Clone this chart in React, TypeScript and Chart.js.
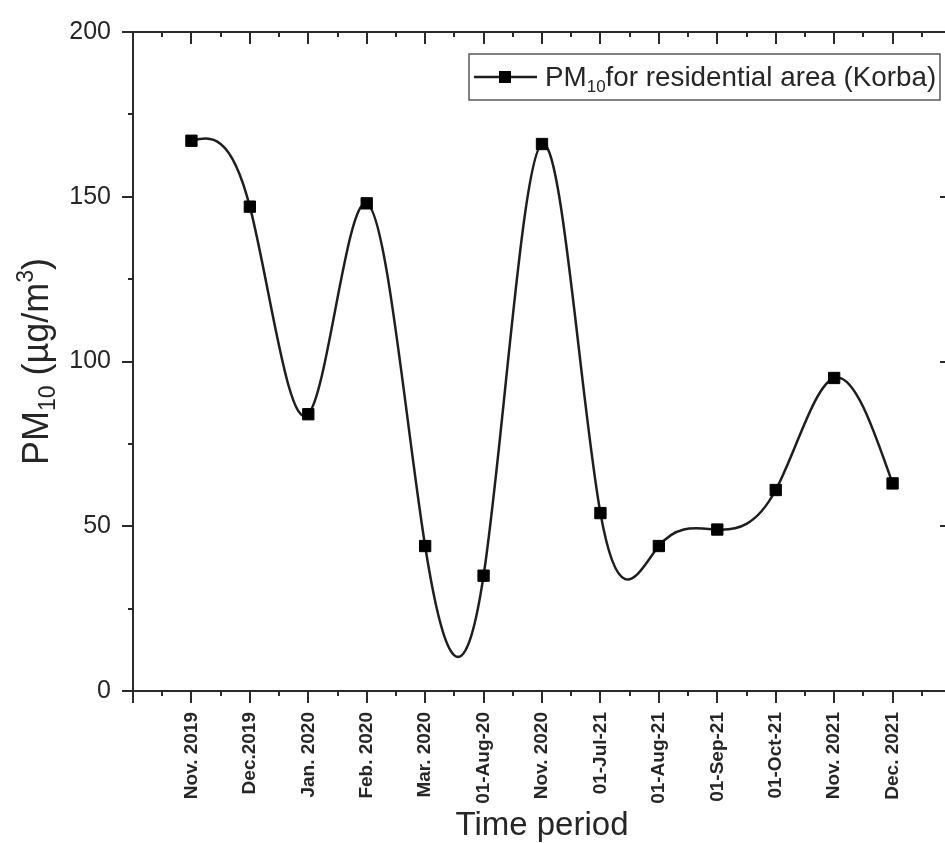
import React, { useEffect, useRef } from "react";
import { Chart, registerables } from "chart.js";

Chart.register(...registerables);

// ---------------- data ----------------
const categories = [
  "Nov. 2019",
  "Dec.2019",
  "Jan. 2020",
  "Feb. 2020",
  "Mar. 2020",
  "01-Aug-20",
  "Nov. 2020",
  "01-Jul-21",
  "01-Aug-21",
  "01-Sep-21",
  "01-Oct-21",
  "Nov. 2021",
  "Dec. 2021",
];
const pm10Values = [167, 147, 84, 148, 44, 35, 166, 54, 44, 49, 61, 95, 63];
const yTickValues = [0, 50, 100, 150, 200];
const xTitle = "Time period";
const legendParts = [
  { text: "PM", sub: false },
  { text: "10", sub: true },
  { text: "for residential area (Korba)", sub: false },
];
const yTitleParts = [
  { text: "PM", mode: "n" },
  { text: "10", mode: "sub" },
  { text: " (µg/m", mode: "n" },
  { text: "3", mode: "sup" },
  { text: ")", mode: "n" },
];

// ---------------- styles ----------------
const FONT = "'Liberation Sans', Arial, Helvetica, sans-serif";
const AXIS_COLOR = "#2a2a2a";
const TEXT_COLOR = "#262626";
const LINE_COLOR = "#1e1e1e";

// natural cubic spline: override bezier control points of the line element
const splinePlugin = {
  id: "naturalSpline",
  beforeDatasetDraw(chart: any, args: any) {
    const meta = chart.getDatasetMeta(args.index);
    const line = meta.dataset;
    const pts = meta.data;
    if (!line || !pts || pts.length < 3) return;
    if (typeof line.updateControlPoints === "function") {
      line.updateControlPoints(chart.chartArea, "x");
    }
    const n = pts.length;
    const xs = pts.map((p: any) => p.x);
    const ys = pts.map((p: any) => p.y);
    const h: number[] = [];
    for (let i = 0; i < n - 1; i++) h.push(xs[i + 1] - xs[i]);
    const M = new Array(n).fill(0);
    const a: number[] = [], b: number[] = [], c: number[] = [], d: number[] = [];
    for (let i = 1; i < n - 1; i++) {
      a.push(h[i - 1]);
      b.push(2 * (h[i - 1] + h[i]));
      c.push(h[i]);
      d.push(6 * ((ys[i + 1] - ys[i]) / h[i] - (ys[i] - ys[i - 1]) / h[i - 1]));
    }
    const m = b.length;
    for (let i = 1; i < m; i++) {
      const w = a[i] / b[i - 1];
      b[i] -= w * c[i - 1];
      d[i] -= w * d[i - 1];
    }
    const sol = new Array(m).fill(0);
    sol[m - 1] = d[m - 1] / b[m - 1];
    for (let i = m - 2; i >= 0; i--) sol[i] = (d[i] - c[i] * sol[i + 1]) / b[i];
    for (let i = 0; i < m; i++) M[i + 1] = sol[i];
    const slope: number[] = [];
    for (let i = 0; i < n; i++) {
      if (i < n - 1) {
        slope.push((ys[i + 1] - ys[i]) / h[i] - (h[i] * (2 * M[i] + M[i + 1])) / 6);
      } else {
        slope.push((ys[i] - ys[i - 1]) / h[i - 1] + (h[i - 1] * (M[i - 1] + 2 * M[i])) / 6);
      }
    }
    for (let i = 0; i < n; i++) {
      const p = pts[i];
      const hp = i > 0 ? h[i - 1] : h[0];
      const hn = i < n - 1 ? h[i] : h[n - 2];
      p.cp1x = xs[i] - hp / 3;
      p.cp1y = ys[i] - (slope[i] * hp) / 3;
      p.cp2x = xs[i] + hn / 3;
      p.cp2y = ys[i] + (slope[i] * hn) / 3;
    }
    line._path = undefined;
  },
};

// frame with inner/outer major & minor ticks on all four sides
const framePlugin = {
  id: "frame",
  beforeDatasetsDraw(chart: any) {
    const { ctx, chartArea: ar, scales } = chart;
    const x = scales.x;
    const y = scales.y;
    ctx.save();
    ctx.strokeStyle = AXIS_COLOR;
    ctx.lineWidth = 2;
    ctx.strokeRect(ar.left, ar.top, ar.right - ar.left, ar.bottom - ar.top);
    ctx.beginPath();
    const xStep = 0.5;
    for (let v = Math.ceil(x.min / xStep) * xStep; v <= x.max + 1e-6; v += xStep) {
      const px = Math.round(x.getPixelForValue(v));
      const major = Math.abs(v - Math.round(v)) < 1e-6;
      const len = major ? 12 : 5;
      ctx.moveTo(px, ar.bottom);
      ctx.lineTo(px, ar.bottom + len);
      ctx.moveTo(px, ar.top);
      ctx.lineTo(px, ar.top + len);
    }
    const yStep = 25;
    for (let v = y.min; v <= y.max + 1e-6; v += yStep) {
      const py = Math.round(y.getPixelForValue(v));
      const major = v % 50 === 0;
      const len = major ? 11 : 5;
      ctx.moveTo(ar.left, py);
      ctx.lineTo(ar.left - len, py);
      ctx.moveTo(ar.right, py);
      ctx.lineTo(ar.right - len, py);
    }
    ctx.stroke();
    ctx.restore();
  },
};

// legend (with subscript) and y-axis title (with sub/superscript)
const textPlugin = {
  id: "richText",
  afterDraw(chart: any) {
    const { ctx, chartArea: ar } = chart;
    ctx.save();
    // ---- legend ----
    const boxL = ar.left + 336;
    const boxR = ar.right - 11;
    const boxT = ar.top + 22;
    const boxB = ar.top + 68;
    ctx.strokeStyle = "#5a5a5a";
    ctx.lineWidth = 1.5;
    ctx.strokeRect(boxL, boxT, boxR - boxL, boxB - boxT);
    const cy = (boxT + boxB) / 2;
    ctx.strokeStyle = LINE_COLOR;
    ctx.lineWidth = 2.5;
    ctx.beginPath();
    ctx.moveTo(boxL + 5, cy);
    ctx.lineTo(boxL + 68, cy);
    ctx.stroke();
    ctx.fillStyle = "#000";
    ctx.fillRect(boxL + 30, cy - 6, 12, 12);
    let tx = boxL + 76;
    const big = 27.8;
    const small = 17;
    ctx.fillStyle = TEXT_COLOR;
    ctx.textBaseline = "alphabetic";
    ctx.textAlign = "left";
    for (const p of legendParts) {
      ctx.font = `${p.sub ? small : big}px ${FONT}`;
      ctx.fillText(p.text, tx, cy + (p.sub ? 15 : 9));
      tx += ctx.measureText(p.text).width;
    }
    // ---- y title ----
    const tBig = 36;
    const tSmall = 23;
    let total = 0;
    for (const p of yTitleParts) {
      ctx.font = `${p.mode === "n" ? tBig : tSmall}px ${FONT}`;
      total += ctx.measureText(p.text).width;
    }
    ctx.translate(48, (ar.top + ar.bottom) / 2);
    ctx.rotate(-Math.PI / 2);
    let px = -total / 2;
    for (const p of yTitleParts) {
      ctx.font = `${p.mode === "n" ? tBig : tSmall}px ${FONT}`;
      const dy = p.mode === "sub" ? 7 : p.mode === "sup" ? -15 : 0;
      ctx.fillText(p.text, px, dy);
      px += ctx.measureText(p.text).width;
    }
    ctx.restore();
  },
};

export default function App() {
  const canvasRef = useRef<HTMLCanvasElement | null>(null);

  useEffect(() => {
    document.body.style.margin = "0";
    const canvas = canvasRef.current;
    if (!canvas) return;
    const chart = new Chart(canvas, {
      type: "line",
      data: {
        datasets: [
          {
            label: "PM10 for residential area (Korba)",
            data: pm10Values.map((v, i) => ({ x: i, y: v })),
            borderColor: LINE_COLOR,
            borderWidth: 2.5,
            tension: 0.4,
            fill: false,
            pointStyle: "rect",
            pointRadius: 8,
            pointBorderWidth: 1,
            pointBackgroundColor: "#000",
            pointBorderColor: "#000",
          },
        ],
      },
      options: {
        responsive: false,
        animation: false,
        events: [],
        layout: { padding: { left: 0, top: 32, right: 7, bottom: 0 } },
        plugins: {
          legend: { display: false },
          tooltip: { enabled: false },
        },
        scales: {
          x: {
            type: "linear",
            min: -1,
            max: 13,
            afterBuildTicks: (scale: any) => {
              scale.ticks = categories.map((_, i) => ({ value: i }));
            },
            afterFit: (scale: any) => {
              scale.height = 152;
            },
            grid: { display: false, drawTicks: true, tickLength: 12 },
            border: { display: false },
            ticks: {
              autoSkip: false,
              minRotation: 90,
              maxRotation: 90,
              padding: 9,
              color: TEXT_COLOR,
              font: { family: FONT, size: 19, weight: "bold" },
              callback: (v: any) => categories[Math.round(Number(v))] ?? "",
            },
            title: {
              display: true,
              text: xTitle,
              color: TEXT_COLOR,
              font: { family: FONT, size: 33, lineHeight: 1 },
              padding: { top: 0, bottom: 1 },
            },
          },
          y: {
            type: "linear",
            min: 0,
            max: 200,
            afterBuildTicks: (scale: any) => {
              scale.ticks = yTickValues.map((v) => ({ value: v }));
            },
            afterFit: (scale: any) => {
              scale.width = 133;
            },
            grid: { display: false, drawTicks: true, tickLength: 11 },
            border: { display: false },
            ticks: {
              padding: 11,
              color: TEXT_COLOR,
              font: { family: FONT, size: 25 },
            },
          },
        },
      },
      plugins: [framePlugin, splinePlugin, textPlugin],
    } as any);
    return () => chart.destroy();
  }, []);

  return (
    <div style={{ width: 945, height: 843, overflow: "hidden", background: "#fff" }}>
      <canvas ref={canvasRef} width={960} height={843} style={{ display: "block" }} />
    </div>
  );
}
